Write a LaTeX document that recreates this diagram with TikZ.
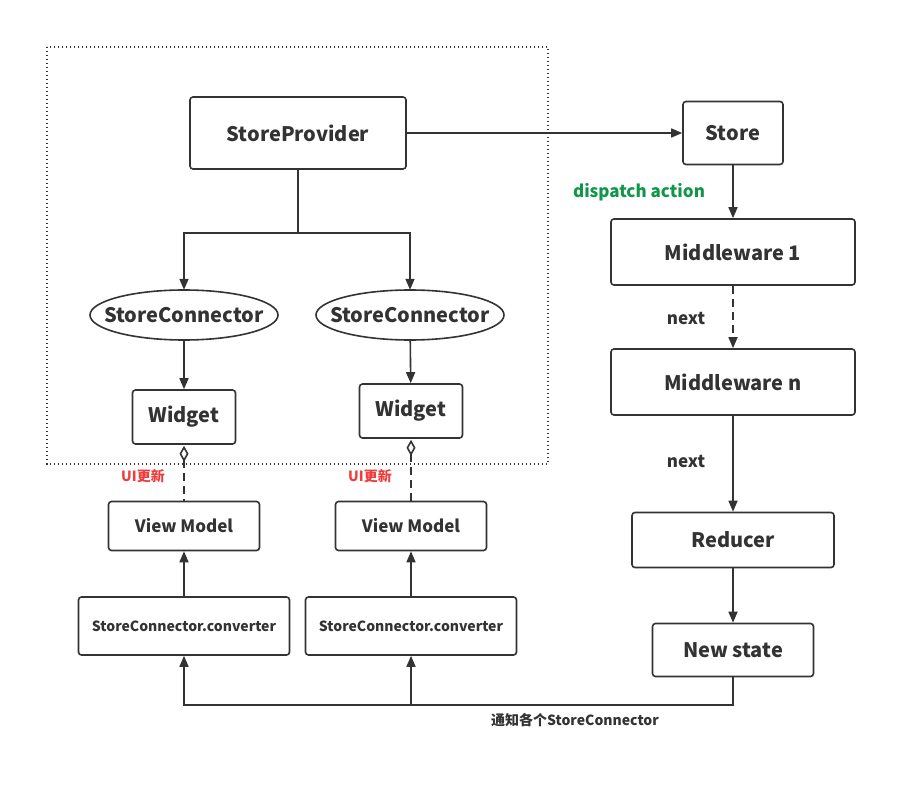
\documentclass[tikz,border=0pt]{standalone}
\usepackage{fontspec}
\setmainfont{Noto Sans CJK SC}
\usetikzlibrary{arrows.meta,shapes.geometric}
\definecolor{ink}{RGB}{51,51,51}
\definecolor{dgreen}{RGB}{16,150,72}
\definecolor{ured}{RGB}{240,60,60}
\tikzset{
  box/.style={draw=ink,line width=1.6pt,rounded corners=3pt,fill=white,text=ink,font=\bfseries\fontsize{20}{24}\selectfont,inner sep=0pt},
  ell/.style={text=ink,font=\bfseries\fontsize{20}{24}\selectfont,inner sep=0pt,minimum width=188pt,minimum height=50pt},
  arr/.style={draw=ink,line width=1.6pt,-{Triangle[length=11pt,width=9pt]}},
  ln/.style={draw=ink,line width=1.6pt},
  lbl/.style={text=ink,font=\bfseries\fontsize{17}{20}\selectfont,inner sep=0pt},
  agg/.style={draw=ink,line width=1.6pt,dash pattern=on 8pt off 5pt,{Diamond[open,length=16pt,width=9pt,sep=1pt]}-},
}
\begin{document}
\begin{tikzpicture}[x=1pt,y=-1pt]
\useasboundingbox (0,0) rectangle (917,810);
\draw[ink,line width=1.4pt,dash pattern=on 1.4pt off 2.6pt] (47,47) rectangle (548,464);

\node[box,minimum width=216pt,minimum height=72pt] (sp) at (298,133) {StoreProvider};
\node[box,minimum width=100pt,minimum height=63pt] (st) at (733,133) {Store};
\node[box,minimum width=244pt,minimum height=66pt] (m1) at (733,252) {Middleware 1};
\node[box,minimum width=244pt,minimum height=66pt] (mn) at (733,382) {Middleware n};
\node[box,minimum width=202pt,minimum height=55pt] (rd) at (733,540) {Reducer};
\node[box,minimum width=161pt,minimum height=53pt] (ns) at (733,650) {New state};

\node[ell] (sc1) at (184,315) {StoreConnector};
\node[ell] (sc2) at (410,315) {StoreConnector};
\draw[ln] (sc1.center) ellipse [x radius=94, y radius=25];
\draw[ln] (sc2.center) ellipse [x radius=94, y radius=25];
\node[box,minimum width=103pt,minimum height=54pt] (w1) at (184,417) {Widget};
\node[box,minimum width=103pt,minimum height=54pt] (w2) at (411,411) {Widget};
\node[box,minimum width=151pt,minimum height=49pt,font=\bfseries\fontsize{17}{20}\selectfont] (vm1) at (184,526) {View Model};
\node[box,minimum width=151pt,minimum height=49pt,font=\bfseries\fontsize{17}{20}\selectfont] (vm2) at (411,526) {View Model};
\node[box,minimum width=211pt,minimum height=58pt,font=\bfseries\fontsize{14}{17}\selectfont] (cv1) at (184,626) {StoreConnector.converter};
\node[box,minimum width=211pt,minimum height=58pt,font=\bfseries\fontsize{14}{17}\selectfont] (cv2) at (411,626) {StoreConnector.converter};

\draw[arr] (sp) -- (st);
\draw[arr] (st) -- (m1);
\draw[arr,dash pattern=on 8pt off 5pt] (m1) -- (mn);
\draw[arr] (mn) -- (rd);
\draw[arr] (rd) -- (ns);

\coordinate (split) at (298,233);
\draw[ln] (sp.south) -- (split);
\draw[arr] (split) -| (sc1.north);
\draw[arr] (split) -| (sc2.north);
\draw[arr] (sc1) -- (w1);
\draw[arr] (sc2) -- (w2);

\draw[agg] (w1.south) -- (vm1.north);
\draw[agg] (w2.south) -- (vm2.north);
\draw[arr] (cv1) -- (vm1);
\draw[arr] (cv2) -- (vm2);

\coordinate (bl) at (184,705);
\coordinate (bm) at (411,705);
\draw[arr] (ns.south) |- (bl) -- (cv1.south);
\draw[arr] (bm) -- (cv2.south);

\node[lbl,text=dgreen] (da) at (639,192) {dispatch action};
\node[lbl] (nx1) at (686,318) {next};
\node[lbl] (nx2) at (686,461) {next};
\node[lbl,text=ured,font=\bfseries\fontsize{14}{17}\selectfont] (ui1) at (143,476) {UI更新};
\node[lbl,text=ured,font=\bfseries\fontsize{14}{17}\selectfont] (ui2) at (370,476) {UI更新};
\node[lbl,font=\bfseries\fontsize{14}{17}\selectfont] (tz) at (575,720) {通知各个StoreConnector};
\end{tikzpicture}
\end{document}
